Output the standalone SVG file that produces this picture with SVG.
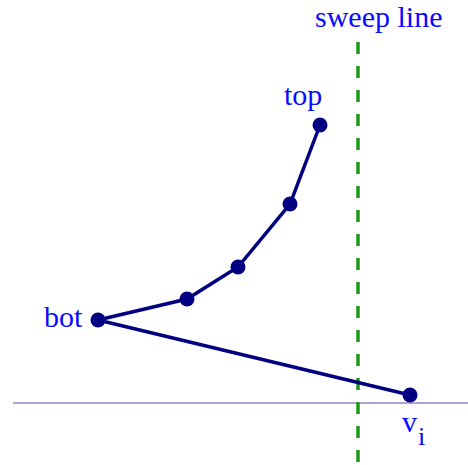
<svg xmlns="http://www.w3.org/2000/svg" width="468" height="465" viewBox="0 0 468 465">
<style>
.lbl{font-family:"Liberation Serif",serif;font-size:30px;fill:#0a0aff}
.sub{font-size:26px}
.pt{fill:#000080}
.edge{stroke:#000080;stroke-width:3.5;fill:none}
</style>
<rect width="468" height="465" fill="#fff"/>
<line x1="13" y1="403" x2="468" y2="403" stroke="#b5a0d6" stroke-width="2"/>
<line x1="358" y1="42" x2="358" y2="465" stroke="#1a9a1a" stroke-width="3.5" stroke-dasharray="12 12"/>
<g id="connectors">
<polyline class="edge" points="320,125 290,204 238,267 187,299 98,320 410,395"/>
</g>
<g id="top"><circle class="pt" cx="320" cy="125" r="7.5"/><text class="lbl" x="284" y="105">top</text></g>
<g id="p2"><circle class="pt" cx="290" cy="204" r="7.5"/></g>
<g id="p3"><circle class="pt" cx="238" cy="267" r="7.5"/></g>
<g id="p4"><circle class="pt" cx="187" cy="299" r="7.5"/></g>
<g id="bot"><circle class="pt" cx="98" cy="320" r="7.5"/><text class="lbl" x="44" y="327">bot</text></g>
<g id="vi"><circle class="pt" cx="410" cy="395" r="7.5"/><text class="lbl" x="402" y="432">v</text><text class="lbl sub" x="418" y="445">i</text></g>
<g id="sweep"><text class="lbl" x="315" y="27">sweep line</text></g>
</svg>
